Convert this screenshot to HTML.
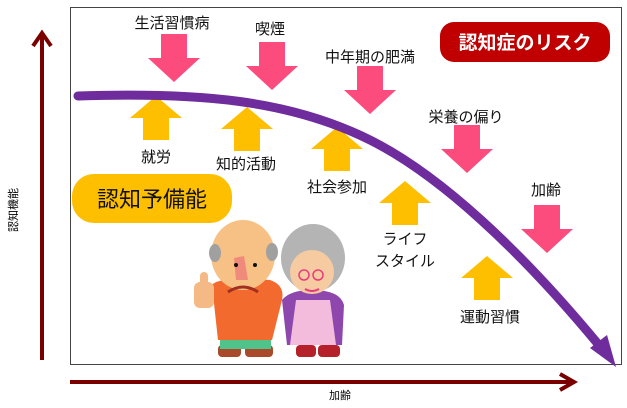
<!DOCTYPE html>
<html><head><meta charset="utf-8"><style>
body{margin:0;background:#fff;width:627px;height:403px;overflow:hidden}
text{font-family:"Liberation Sans","Noto Sans CJK JP",sans-serif}
</style></head><body>
<svg width="627" height="403" viewBox="0 0 627 403" xmlns="http://www.w3.org/2000/svg">
<defs>
<g id="dn"><path d="M-13,0 H13 V24 H26 L0,48 L-26,24 H-13 Z" fill="#fc4c7e"/></g>
<g id="up"><path d="M-13,44 H13 V22 H26 L0,0 L-26,22 H-13 Z" fill="#fdbf00"/></g>
</defs>
<rect x="70.5" y="7.5" width="551" height="357" fill="#fff" stroke="#444" stroke-width="1"/>
<!-- axes -->
<line x1="42" y1="360" x2="42" y2="34" stroke="#7a0000" stroke-width="4"/>
<path d="M33,46 L42,33 L51,46" fill="none" stroke="#7a0000" stroke-width="4"/>
<line x1="70" y1="382" x2="572" y2="382" stroke="#7a0000" stroke-width="4"/>
<path d="M560,374 L574,382 L560,390" fill="none" stroke="#7a0000" stroke-width="4"/>
<text x="0" y="0" font-size="11" transform="translate(17,210) rotate(-90)" text-anchor="middle">認知機能</text>
<text x="340" y="399" font-size="11" text-anchor="middle">加齢</text>
<!-- pink arrows -->
<use href="#dn" x="174" y="34"/>
<use href="#dn" x="272" y="42"/>
<use href="#dn" x="370" y="66"/>
<use href="#dn" x="467" y="125"/>
<use href="#dn" x="547" y="205"/>
<!-- yellow arrows -->
<use href="#up" x="156" y="96"/>
<use href="#up" x="247" y="107"/>
<use href="#up" x="337" y="127"/>
<use href="#up" x="405" y="181"/>
<use href="#up" x="487" y="256"/>
<!-- curve -->
<path d="M78,96 C200,92 290,100 370,140 C440,175 520,250 598,344" fill="none" stroke="#6f2c9c" stroke-width="9" stroke-linecap="round"/>
<path d="M590,348 L616,367 L607,335 Z" fill="#6f2c9c"/>
<!-- labels -->
<g font-size="15" text-anchor="middle" fill="#111">
<text x="172" y="28">生活習慣病</text>
<text x="270" y="34">喫煙</text>
<text x="370" y="62">中年期の肥満</text>
<text x="466" y="122">栄養の偏り</text>
<text x="546" y="195">加齢</text>
<text x="156" y="162">就労</text>
<text x="246" y="169">知的活動</text>
<text x="337" y="192">社会参加</text>
<text x="405" y="244">ライフ</text>
<text x="405" y="266">スタイル</text>
<text x="490" y="322">運動習慣</text>
</g>
<rect x="72" y="174" width="160" height="49" rx="22" fill="#fdbf00"/>
<text x="152" y="207" font-size="22" text-anchor="middle" fill="#111">認知予備能</text>
<rect x="440" y="22" width="170" height="40" rx="14" fill="#c00000"/>
<text x="525" y="49" font-size="19" font-weight="bold" text-anchor="middle" fill="#fff">認知症のリスク</text>
<!-- people -->
<g>
<rect x="218" y="345" width="23" height="12" rx="4" fill="#a94a2c"/>
<rect x="245" y="345" width="28" height="12" rx="4" fill="#a94a2c"/>
<rect x="220" y="335" width="51" height="14" fill="#4fc38a"/>
<path d="M212,285 Q215,280 240,278 L270,280 Q285,285 282,300 L272,340 L218,340 Z" fill="#f26a2e"/>
<rect x="194" y="282" width="20" height="26" rx="6" fill="#f5b985"/>
<rect x="200" y="272" width="8" height="16" rx="4" fill="#f5b985"/>
<ellipse cx="243" cy="255" rx="32" ry="35" fill="#f7c185"/>
<ellipse cx="215" cy="253" rx="6" ry="9" fill="#a0a0a0"/>
<ellipse cx="272" cy="252" rx="6" ry="9" fill="#a0a0a0"/>
<path d="M234,258 L244,256 L248,280 L236,280 Z" fill="#f08a7a"/>
<path d="M228,292 Q243,282 258,292" fill="none" stroke="#a03020" stroke-width="3"/>
<circle cx="236" cy="265" r="2" fill="#111"/><circle cx="255" cy="265" r="2" fill="#111"/>
<rect x="296" y="345" width="20" height="12" rx="4" fill="#b5202a"/>
<rect x="318" y="345" width="22" height="12" rx="4" fill="#b5202a"/>
<path d="M282,300 Q290,290 312,290 Q340,290 344,305 L342,345 L287,345 Z" fill="#8e47ad"/>
<path d="M296,300 L330,300 L336,345 L290,345 Z" fill="#f4bcdc"/>
<ellipse cx="313" cy="258" rx="32" ry="34" fill="#b4b4b4"/>
<ellipse cx="312" cy="272" rx="22" ry="22" fill="#f7cba1"/>
<circle cx="304" cy="275" r="5" fill="none" stroke="#e83d7b" stroke-width="1.5"/>
<circle cx="318" cy="275" r="5" fill="none" stroke="#e83d7b" stroke-width="1.5"/>
<path d="M305,289 Q312,293 319,289" fill="none" stroke="#e83d7b" stroke-width="2"/>
</g>
</svg>
</body></html>
